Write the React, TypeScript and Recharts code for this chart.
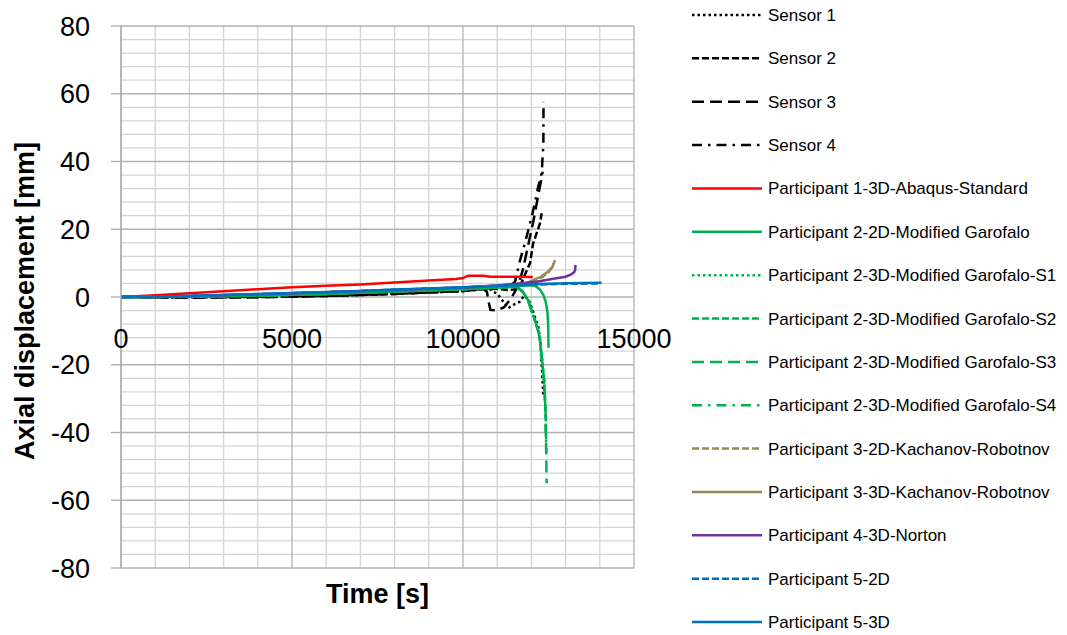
import React from 'react';
import { LineChart, Line, XAxis, YAxis, ReferenceLine } from 'recharts';

type P = [number, number];

const X_TICKS = [0, 5000, 10000, 15000];
const Y_TICKS = [-80, -60, -40, -20, 0, 20, 40, 60, 80];
const X_MINOR = [1000, 2000, 3000, 4000, 6000, 7000, 8000, 9000, 11000, 12000, 13000, 14000];
const Y_MINOR = [-76, -72, -68, -64, -56, -52, -48, -44, -36, -32, -28, -24, -16, -12, -8, -4, 4, 8, 12, 16, 24, 28, 32, 36, 44, 48, 52, 56, 64, 68, 72, 76];

const sensor1: P[] = [[0, 0], [2000, 0], [4000, 0.1], [6000, 0.4], [8000, 1.0], [10000, 1.7], [10500, 2.2], [10800, 2.2], [11030, 0.6], [11320, -3.3], [11500, -2.2], [11660, -1.4], [11800, 0.5], [11950, -1.5], [12100, -5.8], [12200, -8.8], [12260, -13], [12310, -21.5], [12350, -29.4]];
const sensor2: P[] = [[0, 0], [2000, -0.1], [4000, 0], [6000, 0.3], [8000, 0.9], [10000, 1.8], [10500, 2.3], [11000, 2.4], [11300, 2.1], [11500, 2.2], [11700, 4], [11960, 10], [12050, 15.8], [12250, 21.7], [12300, 24.7]];
const sensor3: P[] = [[0, 0], [2000, -0.2], [4000, -0.1], [6000, 0.3], [8000, 0.9], [10000, 1.8], [10600, 2.4], [10700, 1.5], [10750, -1.5], [10800, -3.8], [11000, -4.0], [11200, -3.0], [11400, -0.5], [11600, 3], [11750, 8], [11900, 15], [12050, 22], [12200, 30], [12330, 37]];
const sensor4: P[] = [[0, 0], [2000, 0], [4000, 0.1], [6000, 0.4], [8000, 1.0], [10000, 1.9], [10500, 2.4], [11000, 2.6], [11300, 2.5], [11520, 4.5], [11670, 10.9], [11860, 17.8], [12010, 23.7], [12100, 27.7], [12200, 32.6], [12300, 36.5], [12350, 45], [12355, 57.6]];
const p1Abaqus: P[] = [[0, 0], [1000, 0.5], [2000, 1.1], [3000, 1.7], [4000, 2.3], [5000, 2.9], [6000, 3.3], [7000, 3.7], [8000, 4.3], [9000, 4.9], [9800, 5.3], [10000, 5.6], [10150, 6.3], [10600, 6.3], [10800, 6.0], [11500, 6.0], [12040, 5.9]];
const p2Garofalo2D: P[] = [[0, 0], [2000, 0.1], [4000, 0.4], [6000, 0.9], [8000, 1.6], [10000, 2.3], [11000, 2.8], [11600, 3.2], [11900, 3.5], [12100, 3.4], [12250, 2.2], [12350, 0.6], [12420, -1.5], [12470, -4.5], [12490, -8], [12500, -15]];
const p2GarofaloS1: P[] = [[0, 0], [2000, 0.1], [4000, 0.4], [6000, 0.9], [8000, 1.6], [10000, 2.3], [11000, 2.8], [11570, 3.0], [11750, 1.5], [11900, -0.9], [12100, -6.8], [12200, -10], [12250, -12.7], [12360, -23], [12400, -30]];
const p2GarofaloS2: P[] = [[0, 0], [2000, 0.1], [4000, 0.4], [6000, 0.9], [8000, 1.6], [10000, 2.3], [11000, 2.8], [11570, 3.0], [11750, 1.5], [11900, -0.9], [12100, -6.8], [12200, -10], [12250, -12.7], [12370, -24.5], [12415, -34.2], [12430, -42]];
const p2GarofaloS3: P[] = [[0, 0], [2000, 0.1], [4000, 0.4], [6000, 0.9], [8000, 1.6], [10000, 2.3], [11000, 2.8], [11570, 3.0], [11750, 1.5], [11900, -0.9], [12100, -6.8], [12200, -10], [12250, -12.7], [12370, -24.5], [12415, -34.2], [12445, -55]];
const p2GarofaloS4: P[] = [[0, 0], [2000, 0.1], [4000, 0.4], [6000, 0.9], [8000, 1.6], [10000, 2.3], [11000, 2.8], [11570, 3.0], [11750, 1.5], [11900, -0.9], [12100, -6.8], [12200, -10], [12250, -12.7], [12370, -24.5], [12415, -34.2], [12435, -46]];
const p3Kachanov2D: P[] = [[0, 0], [2000, 0.3], [4000, 0.8], [6000, 1.4], [8000, 2.1], [10000, 2.8], [11000, 3.3], [11800, 3.9], [12050, 4.8], [12300, 5.8], [12490, 7.2], [12600, 8.6], [12660, 10.0]];
const p3Kachanov3D: P[] = [[0, 0], [2000, 0.3], [4000, 0.8], [6000, 1.4], [8000, 2.1], [10000, 2.8], [11000, 3.3], [11800, 3.9], [12050, 5.0], [12300, 6.1], [12490, 7.5], [12620, 9.0], [12690, 10.9]];
const p4Norton: P[] = [[0, 0], [2000, 0.3], [4000, 0.8], [6000, 1.4], [8000, 2.1], [10000, 2.8], [11000, 3.4], [12150, 4.5], [12600, 5.3], [13000, 6.0], [13150, 6.6], [13250, 7.3], [13280, 8], [13290, 9.5]];
const p5_2D: P[] = [[0, 0], [2000, 0.3], [4000, 0.8], [6000, 1.4], [8000, 2.1], [10000, 2.8], [11000, 3.2], [12000, 3.6], [13000, 3.9], [14000, 4.0]];
const p5_3D: P[] = [[0, 0], [1000, 0.1], [2000, 0.3], [3000, 0.6], [4000, 0.9], [5000, 1.2], [6000, 1.5], [7000, 1.8], [8000, 2.2], [9000, 2.5], [10000, 2.9], [11000, 3.3], [12000, 3.8], [13000, 4.05], [14050, 4.2]];

const DOT = '2.5 3';
const DASH = '7 3';
const LONG = '12 6';
const DASHDOT = '10 6 2.5 6';

const SERIES = [
  { name: 'Sensor 1', data: sensor1, color: '#000000', dash: DOT },
  { name: 'Sensor 2', data: sensor2, color: '#000000', dash: DASH },
  { name: 'Sensor 3', data: sensor3, color: '#000000', dash: LONG },
  { name: 'Sensor 4', data: sensor4, color: '#000000', dash: DASHDOT },
  { name: 'Participant 1-3D-Abaqus-Standard', data: p1Abaqus, color: '#ff0000', dash: undefined },
  { name: 'Participant 2-2D-Modified Garofalo', data: p2Garofalo2D, color: '#00b050', dash: undefined },
  { name: 'Participant 2-3D-Modified Garofalo-S1', data: p2GarofaloS1, color: '#00b050', dash: DOT },
  { name: 'Participant 2-3D-Modified Garofalo-S2', data: p2GarofaloS2, color: '#00b050', dash: DASH },
  { name: 'Participant 2-3D-Modified Garofalo-S3', data: p2GarofaloS3, color: '#00b050', dash: LONG },
  { name: 'Participant 2-3D-Modified Garofalo-S4', data: p2GarofaloS4, color: '#00b050', dash: DASHDOT },
  { name: 'Participant 3-2D-Kachanov-Robotnov', data: p3Kachanov2D, color: '#948a54', dash: DASH },
  { name: 'Participant 3-3D-Kachanov-Robotnov', data: p3Kachanov3D, color: '#948a54', dash: undefined },
  { name: 'Participant 4-3D-Norton', data: p4Norton, color: '#7030a0', dash: undefined },
  { name: 'Participant 5-2D', data: p5_2D, color: '#0070c0', dash: DASH },
  { name: 'Participant 5-3D', data: p5_3D, color: '#0070c0', dash: undefined },
];

const W = 1067;
const H = 635;
const PLOT_LEFT = 121;
const PLOT_TOP = 26;
const PLOT_RIGHT = 634;
const PLOT_BOTTOM = 568;
const FONT = '"Liberation Sans", Arial, sans-serif';

const Y_MIN = Y_TICKS[0];
const Y_MAX = Y_TICKS[Y_TICKS.length - 1];
const ZERO_Y = PLOT_TOP + ((PLOT_BOTTOM - PLOT_TOP) * (Y_MAX - 0)) / (Y_MAX - Y_MIN);

const XTick = (props: any) => {
  const { x, payload } = props;
  return (
    <text x={x} y={ZERO_Y + 51} textAnchor="middle" fontSize={27} fill="#000" fontFamily={FONT}>
      {payload.value}
    </text>
  );
};

const Legendish = () => {
  const rowH = 43.36;
  return (
    <svg width={W} height={H} style={{ position: 'absolute', left: 0, top: 0, pointerEvents: 'none' }}>
      {SERIES.map((s, i) => {
        const y = 15 + i * rowH;
        return (
          <g key={s.name}>
            <line x1={692} x2={762} y1={y} y2={y} stroke={s.color} strokeWidth={2.5} strokeDasharray={s.dash} />
            <text x={768} y={y + 6} fontSize={17} fontFamily={FONT} fill="#000">
              {s.name}
            </text>
          </g>
        );
      })}
    </svg>
  );
};

const MINOR_C = '#d4d4d4';
const MAJOR_C = '#b2b2b2';

export default function App() {
  return (
    <div style={{ position: 'absolute', left: 0, top: 0, width: W, height: H, background: '#fff' }}>
      <LineChart
        width={W}
        height={H}
        margin={{ top: PLOT_TOP, right: W - PLOT_RIGHT, bottom: 0, left: 0 }}
      >
        <XAxis
          type="number"
          dataKey="0"
          domain={[0, 15000]}
          ticks={X_TICKS}
          height={H - PLOT_BOTTOM}
          axisLine={false}
          tickLine={false}
          tick={<XTick />}
          allowDataOverflow
          label={{
            content: (p: any) => {
              const vb = p.viewBox || {};
              return (
                <text
                  x={(vb.x ?? PLOT_LEFT) + (vb.width ?? 0) / 2}
                  y={(vb.y ?? PLOT_BOTTOM) + 35}
                  textAnchor="middle"
                  fontSize={27}
                  fontWeight="bold"
                  fontFamily={FONT}
                  fill="#000"
                >
                  Time [s]
                </text>
              );
            },
          }}
        />
        <YAxis
          type="number"
          domain={[Y_MIN, Y_MAX]}
          ticks={Y_TICKS}
          width={PLOT_LEFT}
          stroke="#acacac"
          strokeWidth={1.3}
          tickSize={10}
          tickMargin={21}
          tick={{ fontSize: 27, fill: '#000', fontFamily: FONT }}
          allowDataOverflow
          label={{
            content: (p: any) => {
              const vb = p.viewBox || {};
              const cy = (vb.y ?? PLOT_TOP) + (vb.height ?? 0) / 2 + 4;
              return (
                <text
                  transform={`translate(34, ${cy}) rotate(-90)`}
                  textAnchor="middle"
                  fontSize={27}
                  fontWeight="bold"
                  fontFamily={FONT}
                  fill="#000"
                >
                  Axial displacement [mm]
                </text>
              );
            },
          }}
        />
        {X_MINOR.map((v) => (
          <ReferenceLine key={'xm' + v} x={v} stroke={MINOR_C} strokeWidth={1.3} />
        ))}
        {Y_MINOR.map((v) => (
          <ReferenceLine key={'ym' + v} y={v} stroke={MINOR_C} strokeWidth={1.3} />
        ))}
        {X_TICKS.map((v) => (
          <ReferenceLine key={'xM' + v} x={v} stroke={MAJOR_C} strokeWidth={1.3} />
        ))}
        {Y_TICKS.map((v) => (
          <ReferenceLine key={'yM' + v} y={v} stroke={MAJOR_C} strokeWidth={1.3} />
        ))}
        {SERIES.map((s) => (
          <Line
            key={s.name}
            data={s.data}
            dataKey="1"
            name={s.name}
            type="linear"
            stroke={s.color}
            strokeWidth={2.5}
            strokeDasharray={s.dash}
            dot={false}
            activeDot={false}
            isAnimationActive={false}
          />
        ))}
      </LineChart>
      <Legendish />
    </div>
  );
}
